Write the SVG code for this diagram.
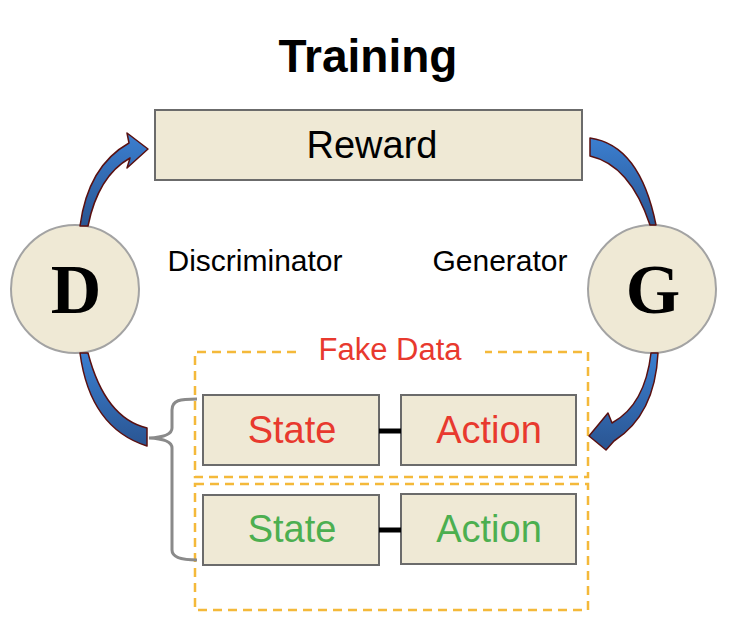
<svg xmlns="http://www.w3.org/2000/svg" width="738" height="642" viewBox="0 0 738 642">
<defs>
<linearGradient id="blue" x1="0" y1="0" x2="0" y2="1">
<stop offset="0" stop-color="#3b7fd0"/>
<stop offset="1" stop-color="#2a5592"/>
</linearGradient>
</defs>
<style>
.box{fill:#efe9d5;stroke:#6b6b6b;stroke-width:2}
.circ{fill:#efe9d5;stroke:#a3a3a3;stroke-width:2}
.dash{fill:none;stroke:#f4b93a;stroke-width:2.5;stroke-dasharray:9 6}
.arrow{fill:url(#blue);stroke:#5a1010;stroke-width:1.5;stroke-linejoin:round}
.sans{font-family:"Liberation Sans",Arial,sans-serif}
.big{font-family:"Liberation Serif","Times New Roman",serif;font-weight:bold;font-size:70px;text-anchor:middle}
.lbl{font-size:38px;text-anchor:middle}
</style>
<rect width="738" height="642" fill="#ffffff"/>
<text x="368" y="72" class="sans" font-size="46" font-weight="bold" text-anchor="middle">Training</text>
<g id="reward">
<rect class="box" x="155" y="110" width="427" height="70"/>
<text x="372" y="158" class="sans lbl" fill="#000">Reward</text>
</g>
<g id="D">
<circle class="circ" cx="75" cy="289" r="64"/>
<text x="76" y="313" class="big">D</text>
</g>
<g id="G">
<circle class="circ" cx="652" cy="289" r="64"/>
<text x="653" y="313" class="big">G</text>
</g>
<text x="255" y="271" class="sans" font-size="30" text-anchor="middle">Discriminator</text>
<text x="500" y="271" class="sans" font-size="30" text-anchor="middle">Generator</text>
<g id="fake">
<path class="dash" d="M296,352 H195 V477 H588 V352 H485"/>
<text x="390" y="360" class="sans" font-size="31" fill="#e8392e" text-anchor="middle">Fake Data</text>
</g>
<g id="real">
<rect class="dash" x="195" y="484" width="393" height="126"/>
</g>
<g id="state1">
<rect class="box" x="203" y="395" width="176" height="70"/>
<text x="292" y="443" class="sans lbl" fill="#e8392e">State</text>
</g>
<g id="action1">
<rect class="box" x="401" y="395" width="175" height="70"/>
<text x="489" y="443" class="sans lbl" fill="#e8392e">Action</text>
</g>
<g id="state2">
<rect class="box" x="203" y="495" width="176" height="70"/>
<text x="292" y="542" class="sans lbl" fill="#4caf50">State</text>
</g>
<g id="action2">
<rect class="box" x="401" y="494" width="175" height="70"/>
<text x="489" y="542" class="sans lbl" fill="#4caf50">Action</text>
</g>
<g id="connectors">
<line x1="379" y1="431" x2="401" y2="431" stroke="#000" stroke-width="5"/>
<line x1="379" y1="530" x2="401" y2="530" stroke="#000" stroke-width="5"/>
<path d="M197,399 C180,399 172,400 172,410 L172,428 Q172,437 149,438 Q172,439 172,448 L172,550 Q172,560 197,560" fill="none" stroke="#8a8a8a" stroke-width="3"/>
<path class="arrow" d="M80,226 Q88,166 129,143 L127,133 L148,149 L127,168 L130,158 Q98,176 88,226 Z"/>
<path class="arrow" d="M80,353 Q90,428 147,446 L147,428 Q105,418 88,353 Z"/>
<path class="arrow" d="M590,138 Q640,145 656,225 L650,225 Q630,165 590,156 Z"/>
<path class="arrow" d="M651,353 Q645,405 612,423 L608,413 L589,436 L606,450 L614,441 Q655,415 658,353 Z"/>
</g>
</svg>
